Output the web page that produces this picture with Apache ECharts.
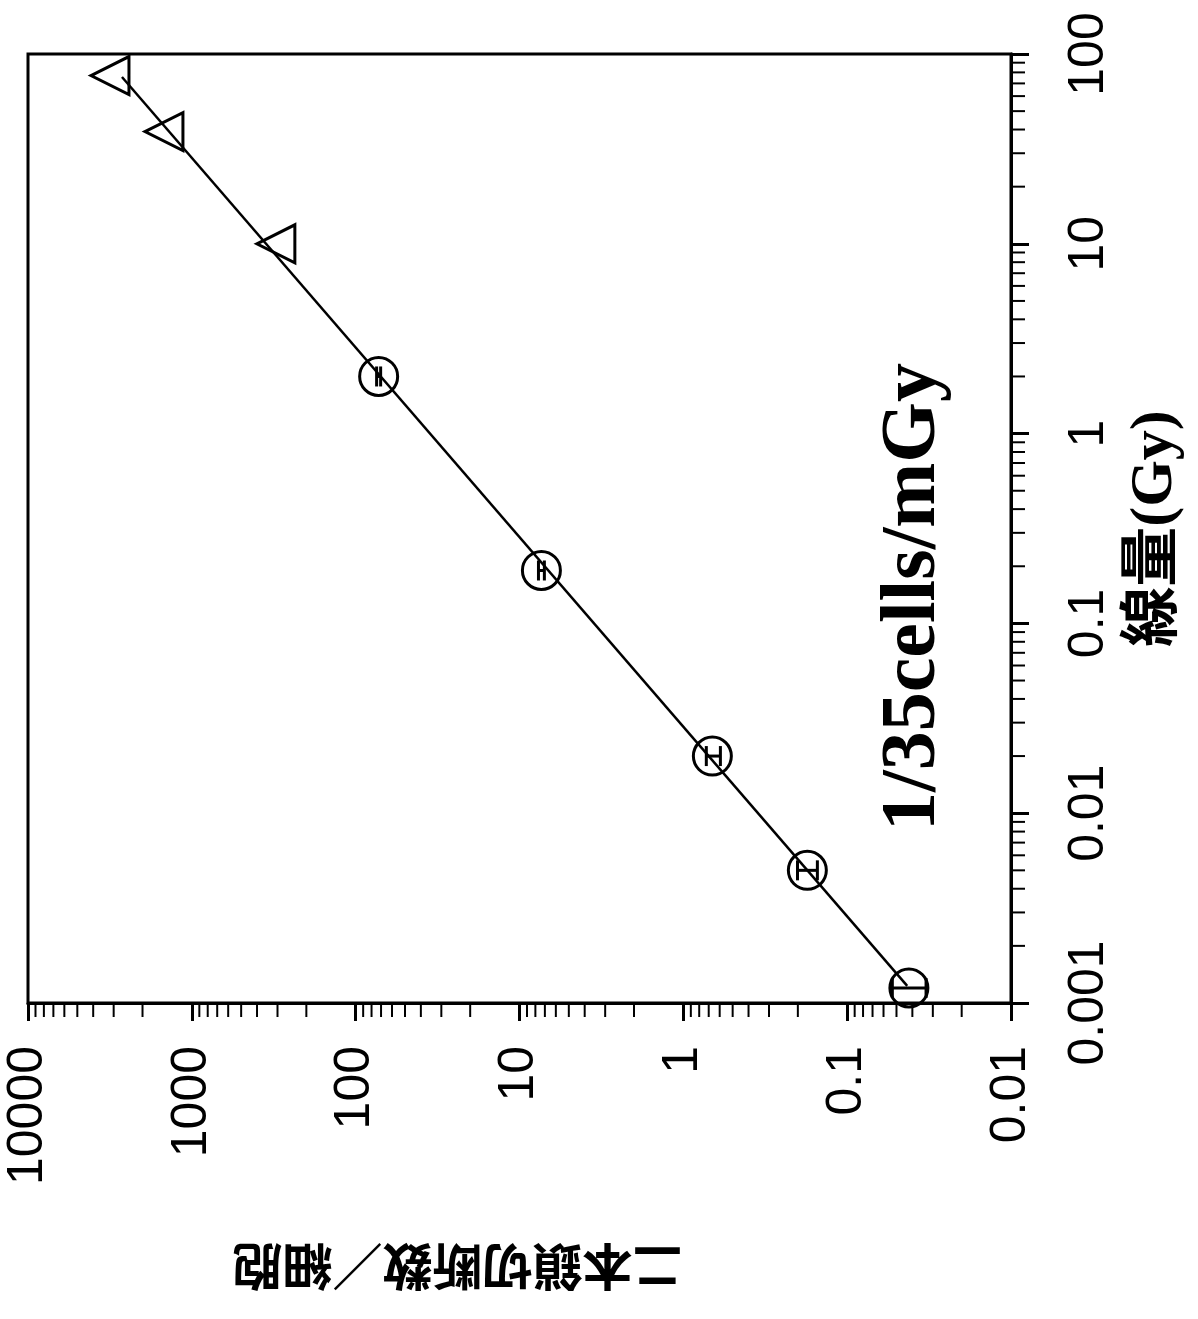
<!DOCTYPE html>
<html>
<head>
<meta charset="utf-8">
<script src="https://cdn.jsdelivr.net/npm/echarts@6/dist/echarts.min.js"></script>
<style>
html, body { margin: 0; padding: 0; background: #fff; }
#main { width: 1198px; height: 1319px; }
</style>
</head>
<body>
<div id="main"></div>
<script>
// dose (Gy) vs double-strand breaks per cell, plot is drawn turned by 90 degrees
var circleDose = [0.0012, 0.005, 0.02, 0.19, 2];
var circleBreaks = [0.042, 0.175, 0.665, 7.35, 72.4];
var circleLow = [0.033, 0.152, 0.594, 7.05, 70.4];
var circleHigh = [0.053, 0.201, 0.724, 7.66, 74.5];

var triangleDose = [10, 39, 77];
var triangleBreaks = [307, 1480, 3160];

var fitDose = [0.00123, 75.7];
var fitBreaks = [0.043, 2670];

var doseTickLabels = ["0.001", "0.01", "0.1", "1", "10", "100"];
var breaksTickLabels = ["0.01", "0.1", "1", "10", "100", "1000", "10000"];
var minorSteps = [2, 3, 4, 5, 6, 7, 8, 9];

var labelFont = "Liberation Sans, Arial, sans-serif";

var breaksMinor = [];
for (var k = -2; k <= 3; k++) {
  minorSteps.forEach(function (m) { breaksMinor.push([m * Math.pow(10, k), 0.001]); });
}
var doseMinor = [];
for (var j = -3; j <= 1; j++) {
  minorSteps.forEach(function (m) { doseMinor.push([0.01, m * Math.pow(10, j)]); });
}

function tickRender(dir) {
  return function (params, api) {
    var p = api.coord([api.value(0), api.value(1)]);
    var len = 14;
    var shape = dir === "down"
      ? { x1: p[0], y1: p[1], x2: p[0], y2: p[1] + len }
      : { x1: p[0], y1: p[1], x2: p[0] + len, y2: p[1] };
    return { type: "line", shape: shape, style: { stroke: "#000", lineWidth: 2 } };
  };
}

var option = {
  animation: false,
  backgroundColor: "#fff",
  grid: {
    left: 28,
    right: 187,
    top: 54,
    bottom: 316,
    show: true,
    borderColor: "#000",
    borderWidth: 3
  },
  xAxis: {
    type: "log",
    min: 0.01,
    max: 10000,
    inverse: true,
    position: "bottom",
    name: "二本鎖切断数／細胞",
    nameLocation: "middle",
    nameRotate: 180,
    nameGap: 239,
    nameTextStyle: {
      fontSize: 50,
      fontWeight: "bold",
      fontFamily: "Noto Sans CJK JP",
      color: "#000",
      padding: [0, 0, 0, 124]
    },
    axisLine: { lineStyle: { color: "#000", width: 3 } },
    axisTick: { length: 18, lineStyle: { color: "#000", width: 3 } },
    splitLine: { show: false },
    axisLabel: {
      rotate: 90,
      margin: 43,
      fontSize: 50,
      fontFamily: labelFont,
      color: "#000",
      formatter: function (v) {
        return breaksTickLabels[Math.round(Math.log10(v)) + 2];
      }
    }
  },
  yAxis: {
    type: "log",
    min: 0.001,
    max: 100,
    position: "right",
    name: "線量(Gy)",
    nameLocation: "middle",
    nameRotate: 90,
    nameGap: 114,
    nameTextStyle: {
      fontSize: 60,
      fontWeight: "bold",
      fontFamily: "Liberation Serif, Noto Sans CJK JP",
      color: "#000"
    },
    axisLine: { lineStyle: { color: "#000", width: 3 } },
    axisTick: { length: 18, lineStyle: { color: "#000", width: 3 } },
    splitLine: { show: false },
    axisLabel: {
      rotate: 90,
      margin: 53,
      fontSize: 50,
      fontFamily: labelFont,
      color: "#000",
      formatter: function (v) {
        return doseTickLabels[Math.round(Math.log10(v)) + 3];
      }
    }
  },
  graphic: [
    {
      type: "text",
      x: 914,
      y: 597,
      rotation: Math.PI / 2,
      style: {
        text: "1/35cells/mGy",
        fontSize: 78,
        fontWeight: "bold",
        fontFamily: "Liberation Serif, Times New Roman, serif",
        fill: "#000",
        align: "center",
        verticalAlign: "middle"
      }
    }
  ],
  series: [
    {
      name: "fit",
      type: "line",
      data: fitBreaks.map(function (b, i) { return [b, fitDose[i]]; }),
      symbol: "none",
      lineStyle: { color: "#000", width: 2.5 },
      z: 2
    },
    {
      name: "low dose",
      type: "scatter",
      data: circleBreaks.map(function (b, i) { return [b, circleDose[i]]; }),
      symbol: "circle",
      symbolSize: 38,
      itemStyle: { color: "transparent", borderColor: "#000", borderWidth: 3, opacity: 1 },
      z: 3
    },
    {
      name: "error",
      type: "custom",
      data: circleDose.map(function (d, i) { return [circleLow[i], circleHigh[i], d]; }),
      encode: { x: [0, 1], y: 2 },
      renderItem: function (params, api) {
        var lo = api.coord([api.value(0), api.value(2)]);
        var hi = api.coord([api.value(1), api.value(2)]);
        var h = 10;
        var st = { stroke: "#000", lineWidth: 3 };
        return {
          type: "group",
          children: [
            { type: "line", shape: { x1: lo[0], y1: lo[1], x2: hi[0], y2: hi[1] }, style: st },
            { type: "line", shape: { x1: lo[0], y1: lo[1] - h, x2: lo[0], y2: lo[1] + h }, style: st },
            { type: "line", shape: { x1: hi[0], y1: hi[1] - h, x2: hi[0], y2: hi[1] + h }, style: st }
          ]
        };
      },
      z: 4
    },
    {
      name: "high dose",
      type: "scatter",
      data: triangleBreaks.map(function (b, i) { return [b, triangleDose[i]]; }),
      symbol: "triangle",
      symbolSize: [38, 38],
      symbolRotate: 90,
      itemStyle: { color: "transparent", borderColor: "#000", borderWidth: 3, opacity: 1 },
      z: 3
    },
    {
      name: "minor x",
      type: "custom",
      silent: true,
      clip: false,
      data: breaksMinor,
      encode: { x: 0, y: 1 },
      renderItem: tickRender("down")
    },
    {
      name: "minor y",
      type: "custom",
      silent: true,
      clip: false,
      data: doseMinor,
      encode: { x: 0, y: 1 },
      renderItem: tickRender("right")
    }
  ]
};

var myChart = echarts.init(document.getElementById("main"));
myChart.setOption(option);
</script>
</body>
</html>
